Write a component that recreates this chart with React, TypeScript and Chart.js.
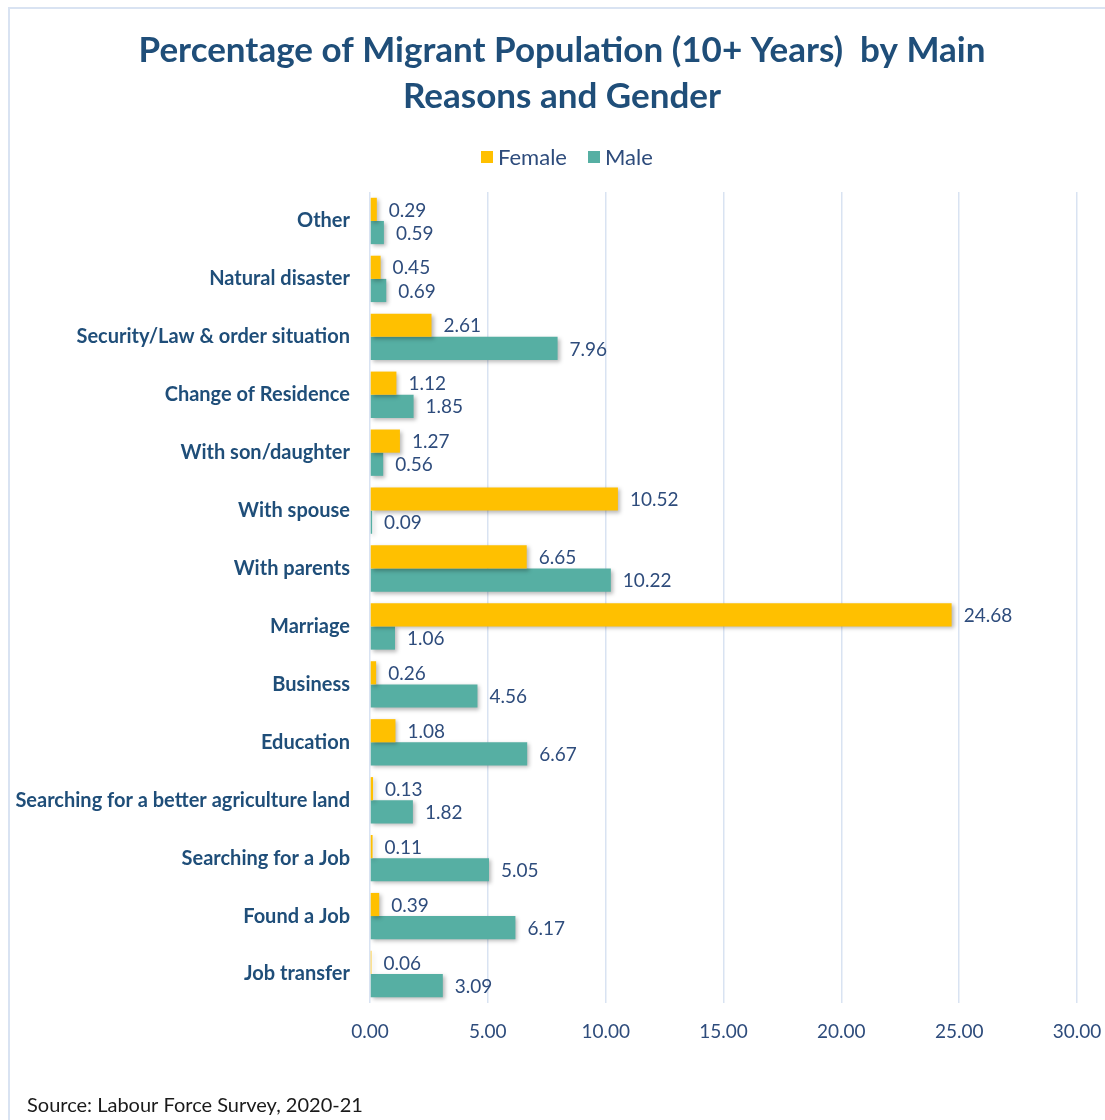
import React, { useEffect, useRef } from "react";
import { Chart, registerables } from "chart.js";

Chart.register(...registerables);

const categories = [
  "Other",
  "Natural disaster",
  "Security/Law & order situation",
  "Change of Residence",
  "With son/daughter",
  "With spouse",
  "With parents",
  "Marriage",
  "Business",
  "Education",
  "Searching for a better agriculture land",
  "Searching for a Job",
  "Found a Job",
  "Job transfer",
];
const femaleValues = [0.29, 0.45, 2.61, 1.12, 1.27, 10.52, 6.65, 24.68, 0.26, 1.08, 0.13, 0.11, 0.39, 0.06];
const maleValues = [0.59, 0.69, 7.96, 1.85, 0.56, 0.09, 10.22, 1.06, 4.56, 6.67, 1.82, 5.05, 6.17, 3.09];
const titleLines = ["Percentage of Migrant Population (10+ Years)  by Main", "Reasons and Gender"];
const seriesNames = ["Female", "Male"];
const sourceText = "Source: Labour Force Survey, 2020-21";

const FONT = "Lato, 'Open Sans', sans-serif";
const DARK = "#1F4E79";
const VALUE = "#2E4C7C";
const FEMALE = "#FFC000";
const MALE = "#56AFA3";
const GRID = "#D9E3F2";

const decorPlugin = {
  id: "decor",
  beforeDraw(chart: any) {
    const ctx = chart.ctx;
    ctx.save();
    ctx.fillStyle = "#fff";
    ctx.fillRect(0, 0, chart.width, chart.height);
    ctx.strokeStyle = GRID;
    ctx.lineWidth = 2;
    ctx.beginPath();
    ctx.moveTo(9, chart.height);
    ctx.lineTo(9, 8);
    ctx.lineTo(chart.width, 8);
    ctx.stroke();
    // title
    ctx.fillStyle = DARK;
    ctx.font = `bold 35px ${FONT}`;
    ctx.textAlign = "center";
    ctx.textBaseline = "middle";
    titleLines.forEach((t, i) => ctx.fillText(t, 562, 51 + i * 46));
    // legend
    ctx.font = `22px ${FONT}`;
    ctx.textAlign = "left";
    const colors = [FEMALE, MALE];
    const xs = [481, 588];
    seriesNames.forEach((n, i) => {
      ctx.fillStyle = colors[i];
      ctx.fillRect(xs[i], 151, 12, 12);
      ctx.fillStyle = VALUE;
      ctx.fillText(n, xs[i] + 17, 158);
    });
    // source
    ctx.fillStyle = "#1a1a1a";
    ctx.font = `20px ${FONT}`;
    ctx.fillText(sourceText, 27, 1106);
    ctx.restore();
  },
  beforeDatasetsDraw(chart: any) {
    const ctx = chart.ctx;
    ctx.save();
    ctx.shadowColor = "rgba(0,0,0,0.28)";
    ctx.shadowBlur = 4;
    ctx.shadowOffsetX = 2;
    ctx.shadowOffsetY = 2;
  },
  afterDatasetsDraw(chart: any) {
    const ctx = chart.ctx;
    ctx.restore();
    ctx.save();
    ctx.font = `19px ${FONT}`;
    ctx.fillStyle = VALUE;
    ctx.textAlign = "left";
    ctx.textBaseline = "middle";
    chart.data.datasets.forEach((ds: any, di: number) => {
      const meta = chart.getDatasetMeta(di);
      meta.data.forEach((bar: any, i: number) => {
        const v = ds.data[i];
        ctx.fillText(Number(v).toFixed(2), bar.x + 12, bar.y + 1);
      });
    });
    ctx.restore();
  },
};

export default function App() {
  const ref = useRef<HTMLCanvasElement>(null);
  useEffect(() => {
    if (!ref.current) return;
    const chart = new Chart(ref.current, {
      type: "bar",
      data: {
        labels: categories,
        datasets: [
          { label: seriesNames[0], data: femaleValues, backgroundColor: FEMALE, categoryPercentage: 0.8, barPercentage: 1 },
          { label: seriesNames[1], data: maleValues, backgroundColor: MALE, categoryPercentage: 0.8, barPercentage: 1 },
        ],
      },
      options: {
        indexAxis: "y",
        responsive: false,
        animation: false,
        layout: { padding: { top: 192, right: 28, bottom: 57, left: 0 } },
        plugins: {
          legend: { display: false },
          title: { display: false },
          tooltip: { enabled: false },
        },
        scales: {
          x: {
            min: 0,
            max: 30,
            ticks: {
              stepSize: 5,
              padding: 17,
              color: VALUE,
              font: { family: FONT, size: 19 },
              callback: (v: any) => Number(v).toFixed(2),
            },
            grid: { color: GRID, lineWidth: 1.5, drawTicks: false },
            border: { display: false },
            afterFit: (s: any) => { s.height = 60; s.paddingLeft = 0; s.paddingRight = 0; },
          },
          y: {
            ticks: {
              padding: 20,
              color: DARK,
              font: { family: FONT, size: 20, weight: "bold" },
            },
            grid: { display: false, drawTicks: false },
            border: { display: false },
            afterFit: (s: any) => { s.width = 370; s.paddingTop = 0; s.paddingBottom = 0; },
          },
        },
      },
      plugins: [decorPlugin],
    });
    return () => chart.destroy();
  }, []);
  return (
    <div style={{ position: "absolute", left: 0, top: 0, width: 1105, height: 1120, background: "#fff" }}>
      <canvas ref={ref} width={1105} height={1120} style={{ display: "block" }} />
    </div>
  );
}
